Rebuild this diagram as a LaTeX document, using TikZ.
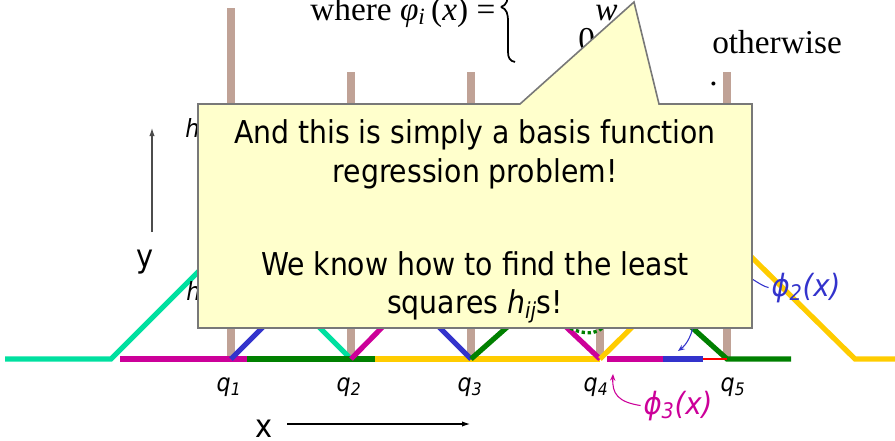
\documentclass[tikz,border=0pt]{standalone}
\usepackage{fontspec}
\setmainfont{Liberation Serif}
\newfontfamily\tahoma{DejaVuSansCondensed}[Extension=.ttf, UprightFont=*, ItalicFont=*-Oblique, BoldFont=*-Bold, BoldItalicFont=*-BoldOblique]
\usepackage{xcolor}
\usepackage{tikz}
\usetikzlibrary{arrows.meta}

\definecolor{barbrown}{RGB}{192,162,150}
\definecolor{tealc}{RGB}{0,224,160}
\definecolor{bluec}{RGB}{51,51,204}
\definecolor{magc}{RGB}{204,0,153}
\definecolor{greenc}{RGB}{0,128,0}
\definecolor{yellowc}{RGB}{255,204,0}
\definecolor{notefill}{RGB}{255,255,204}
\definecolor{noteedge}{RGB}{120,120,120}

\begin{document}
\begin{tikzpicture}[
  x=0.75pt, y=-0.75pt,
  bar/.style={barbrown, line width=6pt},
  tent/.style={line width=3.9pt},
  axis/.style={-{Latex[length=6pt,width=4pt]}, line width=0.8pt},
  thinarr/.style={-{Stealth[length=5pt,width=4pt]}, line width=0.8pt},
  note/.style={fill=notefill, draw=noteedge, line width=1.2pt},
  calltext/.style={anchor=base, inner sep=0pt, font=\tahoma\fontsize{23.6}{28}\selectfont},
  qlab/.style={anchor=base, inner sep=0pt, font=\tahoma\itshape\fontsize{18.5}{20}\selectfont},
  hlab/.style={anchor=base west, inner sep=0pt, font=\tahoma\itshape\fontsize{18.75}{20}\selectfont},
  axlab/.style={anchor=base, inner sep=0pt, font=\tahoma\fontsize{24}{28}\selectfont},
  philab/.style={anchor=base, inner sep=2pt, font=\tahoma\itshape\fontsize{23}{26}\selectfont},
  serif/.style={anchor=base west, inner sep=0pt, font=\fontsize{25}{28}\selectfont}
]
\useasboundingbox (0,0) rectangle (895,440);
\clip (0,0) rectangle (895,440);

% knots on the x axis
\foreach \n/\xx in {1/231,2/351,3/471,4/600,5/727}
  \coordinate (q\n) at (\xx,359);

% the weights as bars
\foreach \n/\top in {1/8,2/72,3/72,4/60,5/72}
  \draw[bar] (q\n) -- (q\n |- 0,\top);

% formula behind the note
\node[serif] (where) at (310,20) {where \textit{φ}\textsubscript{\textit{i}}\,(\textit{x}) =};
\draw[line width=1.3pt] (501,7) .. controls (507,9) and (508,14) .. (508,22)
  -- (508,52) .. controls (508,58) and (510,61) .. (515,62);
\draw[line width=1.3pt] (501,7) .. controls (507,5) and (508,0) .. (508,-8);
\node[serif, font=\itshape\fontsize{25}{28}\selectfont] (wlab) at (595,20) {w};
\node[serif] (zero) at (578,50) {0};
\node[serif] (other) at (712,53) {otherwise};
\node[serif] (dot) at (709,85) {.};

% tent functions
\draw[tent, tealc] (5,359) -- (111,359) -- (231,239) -- (q2);
\draw[tent, magc] (120,359) -- (247,359);
\draw[tent, greenc] (247,359) -- (375,359);
\draw[tent, yellowc] (375,359) -- (q4);
\draw[tent, bluec] (q1) -- (351,239) -- (q3);
\draw[tent, magc] (q2) -- (471,237) -- (q4);
\draw[tent, greenc] (q3) -- (600,245) -- (q5) -- (791,359);
\draw[tent, yellowc] (q4) -- (727,233) -- (855,359) -- (900,359);
\draw[tent, magc] (607,359) -- (663,359);
\draw[tent, bluec] (663,359) -- (703,359);
\draw[red, line width=2pt] (703,359) -- (q5);
\draw[greenc, line width=2.5pt, dotted] (560,322) .. controls (580,336) and (598,336) .. (606,324);

% axes
\coordinate (ybot) at (152,232);
\coordinate (ytop) at (152,128);
\draw[axis, black!70] (ybot) -- (ytop);
\node[axlab] (ylab) at (145,267) {y};
\node[axlab] (xlab) at (264,437) {x};
\coordinate (xbeg) at (287,424);
\coordinate (xend) at (470,424);
\draw[axis] (xbeg) -- (xend);

\foreach \n/\xx in {1/229,2/349,3/470,4/596,5/733}
  \node[qlab] (lq\n) at (\xx,391) {q\textsubscript{\n}};

\node[hlab] (h1) at (185,137) {h};
\node[hlab] (h2) at (186,300) {h};

% labels of two basis functions
\node[philab, text=bluec] (phi2) at (806,296) {ϕ\textsubscript{2}(x)};
\node[philab, text=magc] (phi3) at (678,414) {ϕ\textsubscript{3}(x)};
\coordinate (phi2end) at (735,271);
\draw[bluec, line width=0.8pt] (phi2.west) .. controls (760,286) and (748,274) .. (phi2end);
\coordinate (bfrom) at (694,316);
\coordinate (bto) at (678,351);
\draw[thinarr, bluec] (bfrom) .. controls (694,334) and (686,345) .. (bto);
\coordinate (q4tip) at (613,374);
\draw[thinarr, magc] (phi3.west) .. controls (618,402) and (612,394) .. (q4tip);

% the note
\draw[note] (198,104) -- (520,104) -- (634,2) -- (659,104) -- (752,104)
  -- (752,328) -- (198,328) -- cycle;
\node[calltext] (l1) at (475,143) {And this is simply a basis function};
\node[calltext] (l2) at (475,182) {regression problem!};
\node[calltext] (l3) at (475,275) {We know how to find the least};
\node[calltext] (l4) at (475,313) {squares \textit{h}\textsubscript{\textit{ij}}s!};
\end{tikzpicture}
\end{document}
